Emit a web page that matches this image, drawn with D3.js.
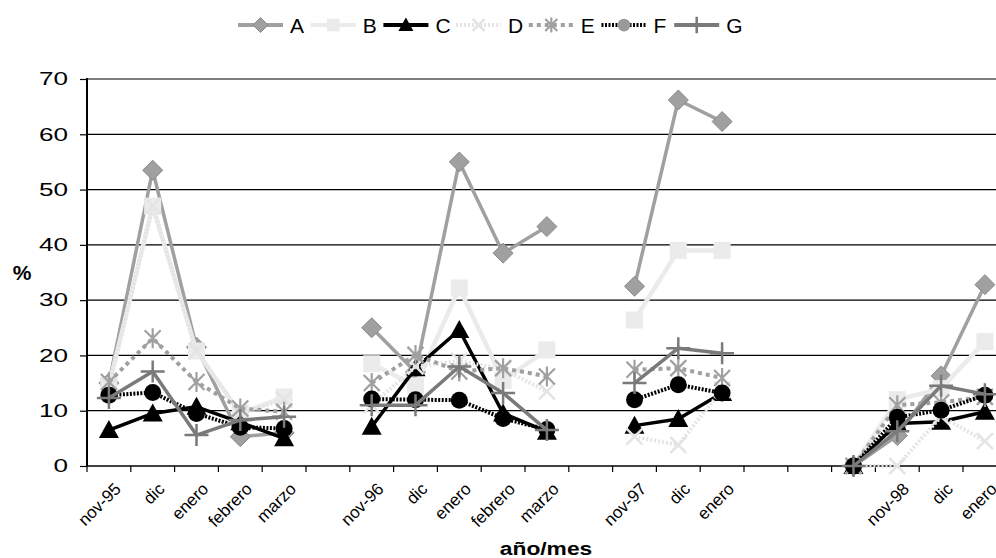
<!DOCTYPE html>
<html>
<head>
<meta charset="utf-8">
<script src="https://cdn.jsdelivr.net/npm/d3@7"></script>
<style>
  body { margin: 0; background: #fff; }
  text { font-family: "Liberation Sans", Arial, sans-serif; }
</style>
</head>
<body>
<div id="chart"></div>
<script>
var width = 996;
var height = 558;

// categorias (huecos = columnas vacias del original)
var months = ["nov-95", "dic", "enero", "febrero", "marzo", "",
  "nov-96", "dic", "enero", "febrero", "marzo", "",
  "nov-97", "dic", "enero", "", "", "",
  "nov-98", "dic", "enero"];

var seriesNames = ["A", "B", "C", "D", "E", "F", "G"];

var serA = [15, 53.5, 21.5, 5.3, 6, null, 25, 17, 55, 38.5, 43.3, null, 32.5, 66.2, 62.3, null, null, 0, 5.5, 16.3, 32.8];
var serB = [14.5, 47, 20.8, 9.5, 12.5, null, 18.5, 14.5, 32.2, 15.5, 21, null, 26.4, 39, 39, null, null, 0, 12, 14, 22.5];
var serC = [6.5, 9.5, 10.7, 7.9, 5, null, 7.1, 17.7, 24.6, 9.5, 6.2, null, 7.3, 8.5, 13.2, null, null, 0, 7.7, 8, 9.8];
var serD = [14.5, 47, 20.8, 9.5, 12, null, 11, 18, 19, 17.5, 13.5, null, 5.3, 3.8, 13.8, null, null, 0, 0, 9, 4.5];
var serE = [15.2, 23.1, 15.2, 10.4, 9.8, null, 15, 20.1, 17.1, 17.7, 16.2, null, 17.4, 17.7, 15.9, null, null, 0, 11, 11.5, 12.5];
var serF = [12.8, 13.3, 9.5, 7, 6.8, null, 12.1, 12, 11.9, 8.6, 6.6, null, 12, 14.7, 13.2, null, null, 0, 8.8, 10.1, 12.8];
var serG = [12.3, 17.1, 5.6, 8.3, 8.9, null, 11, 11, 18, 13.2, 6.5, null, 15, 21.3, 20.4, null, null, 0, 6.3, 14.5, 13];

var yTicks = [0, 10, 20, 30, 40, 50, 60, 70];

var seriesValues = [serA, serB, serC, serD, serE, serF, serG];

var styles = [
  { stroke: "#a0a0a0", w: 3.5, dash: null, marker: "diamond", fill: "#a0a0a0", mstroke: "#8a8a8a" },
  { stroke: "#ebebeb", w: 4.5, dash: null, marker: "square", fill: "#ebebeb", mstroke: "none" },
  { stroke: "#000000", w: 3.5, dash: null, marker: "triangle", fill: "#000000", mstroke: "none" },
  { stroke: "#e4e4e4", w: 4, dash: "2,2", marker: "x", fill: "none", mstroke: "#e4e4e4" },
  { stroke: "#a0a0a0", w: 4, dash: "4,4", marker: "asterisk", fill: "none", mstroke: "#a0a0a0" },
  { stroke: "#000000", w: 4, dash: "2,1.5", marker: "circle", fill: "#000000", mstroke: "none", legendFill: "#999999" },
  { stroke: "#7a7a7a", w: 3.5, dash: null, marker: "plus", fill: "none", mstroke: "#7a7a7a" }
];

var margin = { left: 87, top: 79, bottom: 466 };
var step = 43.8;

var svg = d3.select("#chart")
  .append("svg")
  .attr("width", width)
  .attr("height", height);

var xScale = d3.scaleBand()
  .domain(d3.range(months.length))
  .range([margin.left, margin.left + step * months.length])
  .padding(0);

var yScale = d3.scaleLinear()
  .domain([0, 70])
  .range([margin.bottom, margin.top]);

function cx(i) {
  return xScale(i) + xScale.bandwidth() / 2;
}

var plotRight = xScale.range()[1];

// grid + eje y
var yAxis = svg.append("g")
  .attr("transform", "translate(" + margin.left + ",0)")
  .call(d3.axisLeft(yScale).tickValues(yTicks).tickSize(7));
yAxis.select(".domain").remove();
yAxis.selectAll(".tick line").attr("stroke", "#000").attr("stroke-width", 1.2);
// las etiquetas del original salen ensanchadas
yAxis.selectAll(".tick text")
  .attr("x", -19 / 1.45)
  .attr("transform", "scale(1.45,1)")
  .attr("font-size", "18px")
  .attr("fill", "#000")
  .style("font-family", "'Liberation Sans', Arial, sans-serif");

svg.append("g").selectAll("line")
  .data(yTicks.slice(1))
  .enter().append("line")
  .attr("x1", margin.left)
  .attr("x2", plotRight)
  .attr("y1", function(d) { return yScale(d); })
  .attr("y2", function(d) { return yScale(d); })
  .attr("stroke", "#000")
  .attr("stroke-width", 1.2);

svg.append("line")
  .attr("x1", margin.left).attr("x2", margin.left)
  .attr("y1", yScale(70) - 1).attr("y2", yScale(0))
  .attr("stroke", "#000").attr("stroke-width", 2);

svg.append("line")
  .attr("x1", margin.left).attr("x2", plotRight)
  .attr("y1", yScale(0)).attr("y2", yScale(0))
  .attr("stroke", "#000").attr("stroke-width", 1.6);

// ticks del eje x en los limites de categoria
svg.append("g").selectAll("line")
  .data(d3.range(months.length + 1))
  .enter().append("line")
  .attr("x1", function(i) { return margin.left + i * step; })
  .attr("x2", function(i) { return margin.left + i * step; })
  .attr("y1", yScale(0))
  .attr("y2", yScale(0) + 6)
  .attr("stroke", "#000")
  .attr("stroke-width", 1.2);

svg.append("g").selectAll("text")
  .data(months)
  .enter().append("text")
  .attr("transform", function(d, i) {
    return "translate(" + (cx(i) + 13) + ",490) rotate(-45)";
  })
  .attr("text-anchor", "end")
  .attr("font-size", "17px")
  .attr("fill", "#000")
  .text(function(d) { return d; });

// titulos
svg.append("text")
  .attr("transform", "translate(546,555) scale(1.2,1)")
  .attr("text-anchor", "middle")
  .attr("font-size", "19px")
  .attr("font-weight", "bold")
  .text("año/mes");

svg.append("text")
  .attr("x", 22)
  .attr("y", 280)
  .attr("text-anchor", "middle")
  .attr("font-size", "21px")
  .attr("font-weight", "bold")
  .text("%");

function drawMarker(g, type, st, k, fillOverride) {
  var fill = fillOverride || st.fill;
  if (type == "diamond") {
    g.append("path").attr("d", "M0,-" + 10 * k + "L" + 10 * k + ",0L0," + 10 * k + "L-" + 10 * k + ",0Z")
      .attr("fill", fill).attr("stroke", st.mstroke).attr("stroke-width", 1);
  } else if (type == "square") {
    g.append("rect").attr("x", -8.5 * k).attr("y", -8.5 * k).attr("width", 17 * k).attr("height", 17 * k)
      .attr("fill", fill);
  } else if (type == "triangle") {
    g.append("path").attr("d", "M0,-" + 10 * k + "L" + 10 * k + "," + 8 * k + "L-" + 10 * k + "," + 8 * k + "Z")
      .attr("fill", fill);
  } else if (type == "x") {
    g.append("path").attr("d", "M-8,-8L8,8M8,-8L-8,8")
      .attr("transform", "scale(" + k + ")")
      .attr("stroke", st.mstroke).attr("stroke-width", 2.5 / k).attr("fill", "none");
  } else if (type == "asterisk") {
    g.append("path").attr("d", "M-8,-8L8,8M8,-8L-8,8M0,-10L0,10")
      .attr("transform", "scale(" + k + ")")
      .attr("stroke", st.mstroke).attr("stroke-width", 2.2 / k).attr("fill", "none");
  } else if (type == "circle") {
    g.append("circle").attr("r", 8.5 * k).attr("fill", fill);
  } else if (type == "plus") {
    g.append("path").attr("d", "M-12,0L12,0M0,-11L0,11")
      .attr("transform", "scale(" + k + ")")
      .attr("stroke", st.mstroke).attr("stroke-width", 2.5 / k).attr("fill", "none");
  }
}

var line = d3.line()
  .defined(function(d) { return d.v != null; })
  .x(function(d) { return cx(d.i); })
  .y(function(d) { return yScale(d.v); });

seriesValues.forEach(function(vals, s) {
  var st = styles[s];
  var pts = vals.map(function(v, i) { return { i: i, v: v }; });
  var g = svg.append("g").attr("class", "series-" + seriesNames[s]);
  g.append("path")
    .attr("d", line(pts))
    .attr("fill", "none")
    .attr("stroke", st.stroke)
    .attr("stroke-width", st.w)
    .attr("stroke-dasharray", st.dash)
    .attr("stroke-linejoin", "round");
  pts.filter(function(d) { return d.v != null; }).forEach(function(d) {
    var m = g.append("g").attr("transform", "translate(" + cx(d.i) + "," + yScale(d.v) + ")");
    drawMarker(m, st.marker, st, 1);
  });
});

// leyenda
var legend = svg.append("g");
seriesNames.forEach(function(name, s) {
  var st = styles[s];
  var lx = 238 + s * 72.7;
  var it = legend.append("g").attr("transform", "translate(" + lx + ",25)");
  it.append("line")
    .attr("x1", 0).attr("x2", 45)
    .attr("stroke", st.stroke)
    .attr("stroke-width", 4)
    .attr("stroke-dasharray", st.dash);
  drawMarker(it.append("g").attr("transform", "translate(22.5,0)"), st.marker, st, 0.75, st.legendFill);
  it.append("text")
    .attr("x", 52)
    .attr("y", 8)
    .attr("font-size", "21px")
    .attr("fill", "#000")
    .text(name);
});
</script>
</body>
</html>
